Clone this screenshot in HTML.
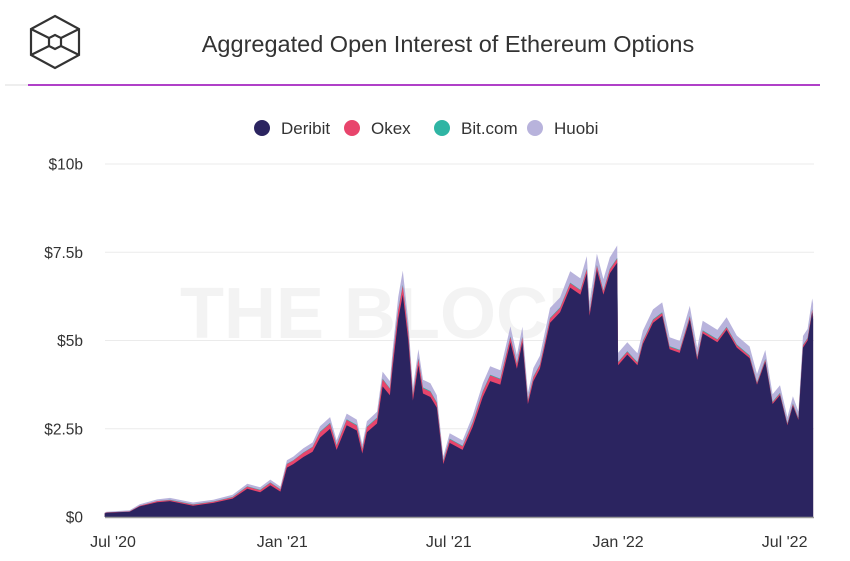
<!DOCTYPE html>
<html><head><meta charset="utf-8"><style>
body{margin:0;background:#fff;font-family:"Liberation Sans",Arial,sans-serif}
svg text{font-family:"Liberation Sans",Arial,sans-serif}
</style></head><body>
<svg id="c" width="850" height="556" viewBox="0 0 850 556">
<g fill="none" stroke="#333" stroke-width="2.2">
<polygon points="55,16 79,29 79,55 55,68 31,55 31,29"/>
<polygon points="55,35 61,38 61,46 55,49 49,46 49,38"/>
<line x1="31" y1="29" x2="49" y2="38"/><line x1="79" y1="29" x2="61" y2="38"/>
<line x1="31" y1="55" x2="49" y2="46"/><line x1="79" y1="55" x2="61" y2="46"/>
</g>
<text x="448" y="52" text-anchor="middle" font-size="23.5" fill="#333">Aggregated Open Interest of Ethereum Options</text>
<line x1="5" y1="85" x2="28" y2="85" stroke="#ddd" stroke-width="1"/>
<line x1="28" y1="85" x2="820" y2="85" stroke="#b040c8" stroke-width="2"/>
<g id="legend"></g>
<g id="grid"></g>
<text x="390" y="338" text-anchor="middle" font-size="72" font-weight="bold" fill="#f3f3f3">THE BLOCK</text>
<g id="areas"></g>
<g id="axes"></g>
</svg>
<script>
const days=[-9,-7,18,29,48,62,87,109,130,146,160,171,182,189,196,207,217,225,236,243,254,265,271,276,287,293,301,304,310,315,321,326,332,337,345,352,359,366,380,391,402,410,421,432,439,445,451,457,464,475,486,497,508,515,518,526,533,540,548,549,559,570,576,587,597,605,616,627,635,641,657,667,678,692,700,709,717,725,733,739,745,750,755,760,761];
const deribit=[0.1,0.12,0.15,0.3,0.42,0.45,0.32,0.4,0.52,0.8,0.7,0.9,0.72,1.4,1.5,1.7,1.85,2.25,2.5,1.9,2.6,2.45,1.8,2.4,2.65,3.7,3.45,4.25,5.6,6.3,5.0,3.3,4.3,3.5,3.4,3.1,1.5,2.1,1.9,2.55,3.4,3.85,3.75,4.95,4.2,4.95,3.2,3.85,4.2,5.5,5.8,6.5,6.3,6.9,5.7,7.0,6.3,6.9,7.2,4.3,4.6,4.3,4.9,5.5,5.7,4.75,4.65,5.6,4.45,5.2,4.95,5.3,4.8,4.5,3.75,4.4,3.2,3.45,2.6,3.15,2.75,4.8,5.0,5.8,5.6];
const okex=[0.01,0.01,0.01,0.02,0.03,0.03,0.03,0.03,0.04,0.06,0.06,0.07,0.06,0.1,0.1,0.12,0.13,0.15,0.15,0.12,0.15,0.14,0.12,0.14,0.15,0.2,0.18,0.22,0.25,0.25,0.22,0.15,0.18,0.15,0.15,0.13,0.08,0.1,0.1,0.12,0.15,0.16,0.15,0.15,0.13,0.14,0.1,0.11,0.11,0.12,0.12,0.12,0.12,0.12,0.1,0.12,0.1,0.11,0.12,0.08,0.08,0.07,0.08,0.08,0.08,0.07,0.07,0.08,0.07,0.07,0.07,0.07,0.07,0.06,0.05,0.06,0.05,0.05,0.04,0.05,0.04,0.06,0.06,0.07,0.07];
const bitcom=[0,0,0,0,0,0.01,0.01,0.01,0.01,0.01,0.01,0.01,0.01,0.01,0.01,0.01,0.01,0.02,0.02,0.02,0.02,0.02,0.02,0.02,0.02,0.02,0.02,0.03,0.03,0.03,0.03,0.02,0.02,0.02,0.02,0.02,0.02,0.02,0.02,0.02,0.02,0.02,0.02,0.02,0.02,0.02,0.02,0.02,0.02,0.02,0.02,0.02,0.02,0.02,0.02,0.02,0.02,0.02,0.02,0.02,0.02,0.02,0.02,0.02,0.02,0.02,0.02,0.02,0.02,0.02,0.02,0.02,0.02,0.02,0.02,0.02,0.02,0.02,0.02,0.02,0.02,0.02,0.02,0.02,0.02];
const huobi=[0.02,0.02,0.03,0.04,0.05,0.05,0.05,0.05,0.06,0.07,0.07,0.08,0.07,0.1,0.1,0.12,0.12,0.15,0.16,0.13,0.16,0.15,0.12,0.15,0.16,0.2,0.2,0.25,0.35,0.4,0.3,0.2,0.25,0.22,0.22,0.2,0.12,0.15,0.15,0.18,0.22,0.24,0.24,0.28,0.24,0.28,0.2,0.24,0.24,0.28,0.28,0.32,0.32,0.35,0.28,0.32,0.32,0.32,0.35,0.25,0.25,0.25,0.28,0.28,0.28,0.25,0.25,0.28,0.25,0.27,0.26,0.27,0.25,0.25,0.23,0.25,0.21,0.21,0.17,0.2,0.18,0.25,0.25,0.3,0.35];
const series=[{n:"Deribit",v:deribit,c:"#2b2460"},{n:"Okex",v:okex,c:"#e8456c"},{n:"Bit.com",v:bitcom,c:"#2fb5a4"},{n:"Huobi",v:huobi,c:"#b8b3dc"}];
const yTicks=[0,2.5,5,7.5,10];
const yLabels=["$0","$2.5b","$5b","$7.5b","$10b"];
const xTickDays=[0,184,365,549,730];
const xLabels=["Jul '20","Jan '21","Jul '21","Jan '22","Jul '22"];
const NS="http://www.w3.org/2000/svg";
const X=d=>113+(d)*0.92;
const Y=v=>517-v*35.3;
function mk(t,a,p){const e=document.createElementNS(NS,t);for(const k in a)e.setAttribute(k,a[k]);p.appendChild(e);return e;}
const grid=document.getElementById('grid'),axes=document.getElementById('axes'),areas=document.getElementById('areas'),leg=document.getElementById('legend');
yTicks.forEach((t,i)=>{
 if(t>0){const l=mk('line',{x1:105,x2:814,y1:Y(t),y2:Y(t),stroke:'#ebebeb','stroke-width':1},grid);
 
 }
 const tx=mk('text',{x:83,y:Y(t)+5.5,'text-anchor':'end','font-size':15.5,fill:'#333'},axes);tx.textContent=yLabels[i];
 
 
});
xTickDays.forEach((d,i)=>{
 const tx=mk('text',{x:X(d),y:547,'text-anchor':'middle','font-size':16,fill:'#333'},axes);tx.textContent=xLabels[i];
 
 
});
const base=days.map(()=>0);
const tops=[];
series.forEach(s=>{const top=base.map((b,i)=>b+(s.v[i]||0));tops.push({lo:base.slice(),hi:top,c:s.c,n:s.n});top.forEach((v,i)=>base[i]=v);});
for(let k=tops.length-1;k>=0;k--){const s=tops[k];
 let d='M'+X(days[0])+','+Y(0);
 days.forEach((dd,i)=>{d+=' L'+X(dd).toFixed(1)+','+Y(s.hi[i]).toFixed(1);});
 d+=' L'+X(days[days.length-1])+','+Y(0)+' Z';
 const p=mk('path',{d:d,fill:s.c},areas);
 
 
}
const ax=mk('line',{x1:105,x2:814,y1:517.5,y2:517.5,stroke:'#999','stroke-width':1.5},axes);


const lx=[262,352,442,535];
series.forEach((s,i)=>{
 const g=mk('g',{},leg);
 
 
 mk('circle',{cx:lx[i],cy:128,r:8,fill:s.c},g);
 const t=mk('text',{x:lx[i]+19,y:134,'font-size':17,fill:'#333'},g);t.textContent=s.n;
});
</script>
</body></html>
